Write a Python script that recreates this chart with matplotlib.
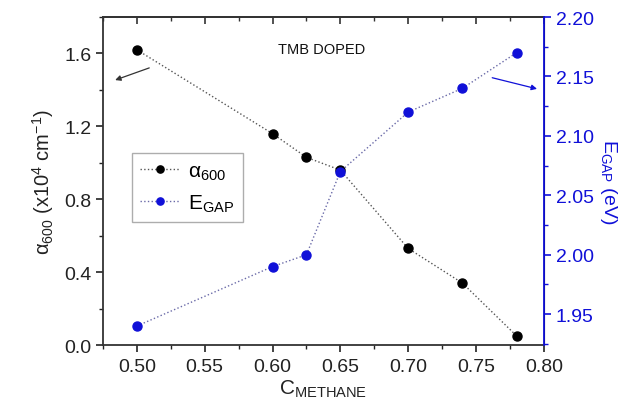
import numpy as np
import matplotlib.pyplot as plt
from matplotlib.ticker import MultipleLocator

plt.rcParams['font.family'] = ['Liberation Sans', 'DejaVu Sans']
plt.rcParams['mathtext.fontset'] = 'custom'
plt.rcParams['mathtext.rm'] = 'Liberation Sans'
plt.rcParams['mathtext.it'] = 'Liberation Sans:italic'

# data
c_methane = [0.50, 0.60, 0.625, 0.65, 0.70, 0.74, 0.78]
alpha_600 = [1.62, 1.16, 1.03, 0.96, 0.53, 0.34, 0.05]
e_gap = [1.94, 1.99, 2.00, 2.07, 2.12, 2.14, 2.17]

blue = '#1010d8'
dark = '#222222'

fig = plt.figure(figsize=(6.36, 4.10), dpi=100)
ax = fig.add_axes([0.162, 0.156, 0.693, 0.800])
ax2 = ax.twinx()

l1, = ax.plot(c_methane, alpha_600, ls=':', color='#555555', lw=1.0,
              marker='o', ms=6.5, mfc='black', mec='black', zorder=3)
l2, = ax2.plot(c_methane, e_gap, ls=':', color='#6a6aa8', lw=1.0,
               marker='o', ms=6.5, mfc=blue, mec=blue, zorder=3)

ax.set_xlim(0.475, 0.80)
ax.set_ylim(0.0, 1.8)
ax2.set_ylim(1.924, 2.20)

ax.set_xticks([0.50, 0.55, 0.60, 0.65, 0.70, 0.75, 0.80])
ax.set_xticklabels(['0.50', '0.55', '0.60', '0.65', '0.70', '0.75', '0.80'])
ax.xaxis.set_minor_locator(MultipleLocator(0.025))
ax.set_yticks([0.0, 0.4, 0.8, 1.2, 1.6])
ax.set_yticklabels(['0.0', '0.4', '0.8', '1.2', '1.6'])
ax.yaxis.set_minor_locator(MultipleLocator(0.2))
ax2.set_yticks([1.95, 2.00, 2.05, 2.10, 2.15, 2.20])
ax2.set_yticklabels(['1.95', '2.00', '2.05', '2.10', '2.15', '2.20'])
ax2.yaxis.set_minor_locator(MultipleLocator(0.025))

ax.tick_params(axis='x', which='both', direction='out', labelsize=14, colors=dark, pad=4)
ax.tick_params(axis='x', which='major', length=5, width=1.2)
ax.tick_params(axis='x', which='minor', length=3, width=1.0)
ax.tick_params(axis='y', which='both', direction='out', labelsize=14, colors=dark)
ax.tick_params(axis='y', which='major', length=5, width=1.2)
ax.tick_params(axis='y', which='minor', length=3, width=1.0)
ax2.tick_params(axis='y', which='both', direction='out', labelsize=14, colors=blue)
ax2.tick_params(axis='y', which='major', length=5, width=1.2)
ax2.tick_params(axis='y', which='minor', length=3, width=1.0)

# top axis: ticks pointing inward, no labels
top = ax.secondary_xaxis('top')
top.set_xticks([0.50, 0.55, 0.60, 0.65, 0.70, 0.75, 0.80])
top.xaxis.set_minor_locator(MultipleLocator(0.025))
top.tick_params(axis='x', which='both', direction='in', labeltop=False, colors='#333333')
top.tick_params(axis='x', which='major', length=5, width=1.2)
top.tick_params(axis='x', which='minor', length=3, width=1.0)
top.spines['top'].set_linewidth(1.3)
top.spines['top'].set_color('#333333')

for s in ['left', 'bottom', 'top']:
    ax.spines[s].set_linewidth(1.3)
    ax.spines[s].set_color('#333333')
ax2.spines['right'].set_color(blue)
ax2.spines['right'].set_linewidth(1.3)
for s in ['left', 'bottom', 'top']:
    ax2.spines[s].set_visible(False)

ax.set_xlabel(r'C$_{\mathrm{METHANE}}$', fontsize=15, color=dark, labelpad=2)
ax.set_ylabel(r'α$_{600}$ (x10$^4$ cm$^{-1}$)', fontsize=14.5, color=dark, labelpad=6)
ax2.set_ylabel(r'E$_{\mathrm{GAP}}$ (eV)', fontsize=14, color=blue, rotation=-90, labelpad=18)

ax.text(0.604, 1.624, 'TMB DOPED', fontsize=10.5, color='#111111', va='center')

ax.annotate('', xy=(0.482, 1.449), xytext=(0.511, 1.526),
            arrowprops=dict(arrowstyle='-|>', color='#333333', lw=0.9, mutation_scale=8))
ax2.annotate('', xy=(0.797, 2.139), xytext=(0.760, 2.1495),
             arrowprops=dict(arrowstyle='-|>', color=blue, lw=0.9, mutation_scale=8))

leg = ax.legend([l1, l2], [r'α$_{600}$', r'E$_{\mathrm{GAP}}$'],
                loc='upper left', bbox_to_anchor=(0.066, 0.585), fontsize=15,
                frameon=True, fancybox=False, edgecolor='#999999',
                handlelength=1.9, handletextpad=0.4, borderpad=0.4,
                labelspacing=0.5, markerscale=0.8, borderaxespad=0)
leg.get_frame().set_linewidth(1.0)

fig.savefig('out.png', dpi=100)
